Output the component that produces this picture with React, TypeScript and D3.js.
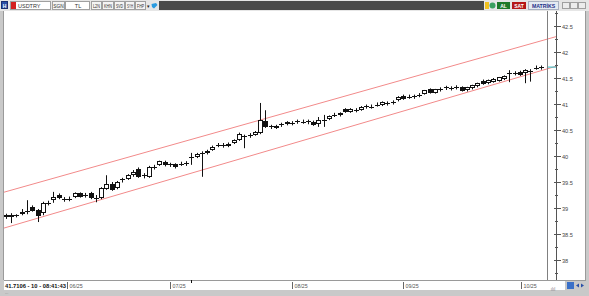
import React from "react";
import * as d3 from "d3";

// ---- data (USDTRY daily candles) ----
const opens = [38.86,38.82,38.85,38.88,38.92,39.02,38.96,38.90,39.09,39.15,39.25,39.17,39.18,39.21,39.28,39.24,39.29,39.19,39.19,39.37,39.46,39.38,39.53,39.56,39.63,39.75,39.62,39.60,39.78,39.83,39.88,39.83,39.84,39.84,39.85,39.98,39.98,40.05,40.06,40.12,40.20,40.21,40.19,40.25,40.31,40.37,40.39,40.41,40.44,40.67,40.56,40.54,40.60,40.61,40.63,40.66,40.66,40.66,40.66,40.62,40.69,40.71,40.78,40.78,40.90,40.85,40.88,40.89,40.95,40.95,40.98,40.98,41.01,41.02,41.07,41.16,41.13,41.14,41.17,41.20,41.28,41.22,41.28,41.31,41.30,41.32,41.32,41.26,41.30,41.34,41.45,41.40,41.43,41.45,41.48,41.58,41.59,41.62,41.59,41.63,41.69,41.70];
const highs = [38.89,38.90,38.88,38.98,39.15,39.05,38.98,39.12,39.14,39.31,39.28,39.21,39.22,39.30,39.30,39.29,39.31,39.25,39.40,39.63,39.50,39.52,39.58,39.65,39.73,39.78,39.67,39.81,39.83,39.91,39.91,39.87,39.86,39.89,39.90,40.06,40.06,40.09,40.12,40.20,40.25,40.25,40.26,40.32,40.45,40.41,40.44,40.48,41.02,40.88,40.60,40.60,40.64,40.67,40.67,40.70,40.70,40.70,40.68,40.75,40.79,40.78,40.83,40.84,40.92,40.92,40.92,40.96,40.99,40.99,41.03,41.05,41.05,41.07,41.15,41.18,41.18,41.18,41.21,41.27,41.30,41.29,41.32,41.35,41.34,41.36,41.34,41.33,41.37,41.41,41.47,41.47,41.50,41.52,41.55,41.65,41.63,41.64,41.67,41.67,41.74,41.74];
const lows = [38.79,38.71,38.82,38.86,38.88,38.93,38.73,38.86,39.05,39.10,39.17,39.12,39.13,39.19,39.20,39.20,39.17,39.11,39.17,39.35,39.33,39.36,39.49,39.54,39.60,39.58,39.57,39.58,39.74,39.81,39.80,39.79,39.76,39.81,39.81,39.83,39.96,39.60,40.03,40.10,40.17,40.16,40.17,40.23,40.29,40.15,40.35,40.39,40.42,40.54,40.52,40.52,40.56,40.59,40.59,40.62,40.62,40.61,40.58,40.56,40.56,40.69,40.75,40.76,40.83,40.83,40.84,40.87,40.91,40.91,40.95,40.96,40.97,40.99,41.05,41.08,41.10,41.10,41.13,41.18,41.20,41.20,41.24,41.27,41.26,41.28,41.24,41.24,41.28,41.32,41.37,41.38,41.41,41.43,41.46,41.42,41.55,41.54,41.40,41.43,41.66,41.66];
const closes = [38.82,38.87,38.86,38.92,38.94,38.95,38.85,39.09,39.10,39.21,39.19,39.18,39.17,39.28,39.22,39.25,39.19,39.20,39.38,39.46,39.35,39.50,39.55,39.63,39.70,39.60,39.63,39.78,39.79,39.90,39.82,39.84,39.78,39.85,39.86,39.99,40.04,40.06,40.09,40.18,40.21,40.22,40.23,40.31,40.42,40.38,40.40,40.47,40.69,40.56,40.57,40.58,40.61,40.65,40.64,40.67,40.66,40.67,40.60,40.70,40.70,40.77,40.79,40.83,40.84,40.91,40.89,40.95,40.96,40.95,40.99,41.04,41.02,41.03,41.14,41.10,41.14,41.15,41.18,41.26,41.22,41.28,41.29,41.32,41.31,41.33,41.25,41.33,41.36,41.40,41.39,41.46,41.49,41.51,41.54,41.59,41.60,41.56,41.66,41.64,41.70,41.71];

// month separators (position in candle-index units) and their labels
const monthLabels = ["06/25", "07/25", "08/25", "09/25", "10/25"];
const monthPos = [11.6, 31.0, 54.0, 75.0, 97.2];

// hand-drawn trend channel (candle index, price)
const upperChannel = [[-0.45, 39.30], [104.0, 42.30]];
const lowerChannel = [[-0.45, 38.61], [104.0, 41.73]];

const lastPriceText = "41.7106 - 10 - 08:41:43";
const toolbarButtons = ["L2N", "KHN", "SVD", "SYH", "FHP"];
const priceTicks = d3.range(37.75, 42.76, 0.25);

const FONT = "'Liberation Sans', Arial, sans-serif";

export default function App() {
  const W = 589, H = 296;
  const plotTop = 11, plotBottom = 280, plotLeft = 4, axisX = 556.5;
  const x = d3.scaleLinear().domain([0, 101]).range([5.7, 541]);
  const y = d3.scaleLinear().domain([38, 42.5]).range([260, 26]);
  const line = d3.line<number[]>().x(d => x(d[0])).y(d => y(d[1]));
  const lastClose = closes[closes.length - 1];

  const btn = (x0: number, w: number, label: string, key: string) => (
    <g key={key}>
      <rect x={x0 + 0.5} y={1.5} width={w} height={8} fill="#f4f4f4" stroke="#a0a0a0" strokeWidth={1} />
      <text x={x0 + 2} y={7.6} fontSize={4.8} textLength={w - 3} lengthAdjust="spacingAndGlyphs"
        fill="#333" fontFamily={FONT}>{label}</text>
    </g>
  );
  const btnX = [91, 102, 114, 125, 135];
  const btnW = [10, 11, 10, 9, 10];

  return (
    <svg width={W} height={H} style={{ position: "absolute", left: 0, top: 0, display: "block" }}>
      <defs>
        <clipPath id="plotclip">
          <rect x={plotLeft} y={plotTop} width={axisX - plotLeft} height={plotBottom - plotTop} />
        </clipPath>
      </defs>
      {/* window background */}
      <rect x={0} y={0} width={W} height={H} fill="#c9c9c9" />
      {/* toolbar */}
      <rect x={0} y={0} width={W} height={11} fill="#e6e6e6" />
      <rect x={1.5} y={1.5} width={6} height={7} fill="#2a4fa8" stroke="#1a2f70" />
      <text x={4.5} y={7.6} fontSize={5} textAnchor="middle" fill="#fff" fontFamily={FONT} fontWeight="bold">H</text>
      <rect x={10.5} y={1.5} width={40} height={8} fill="#ffffff" stroke="#a0a0a0" />
      <rect x={11} y={2} width={5} height={7} fill="#d42020" />
      <text x={18} y={7.8} fontSize={5.5} fill="#333" fontFamily={FONT}>USDTRY</text>
      <rect x={52.5} y={1.5} width={12} height={8} fill="#f4f4f4" stroke="#a0a0a0" />
      <text x={58.5} y={7.6} fontSize={4.8} textAnchor="middle" fill="#333" fontFamily={FONT}>SGN</text>
      <rect x={65.5} y={1.5} width={24} height={8} fill="#ffffff" stroke="#a0a0a0" />
      <text x={78} y={7.8} fontSize={5.5} textAnchor="middle" fill="#333" fontFamily={FONT}>TL</text>
      {toolbarButtons.map((b, k) => btn(btnX[k], btnW[k], b, b))}
      <text x={148} y={8} fontSize={5} textAnchor="middle" fill="#222" fontFamily={FONT}>▾</text>
      <path d="M151.5,4 L156,3 L157.5,5 L154,8.5 L152,7 Z" fill="#2a9be0" />
      <rect x={159} y={1} width={325} height={9} fill="#4a4a4a" />
      <rect x={485} y={2} width={4} height={7} fill="#f0c020" />
      <circle cx={492.5} cy={5.5} r={3} fill="#3aa060" />
      <rect x={497} y={2} width={13} height={7} fill="#1e7a2a" />
      <text x={503.5} y={7.6} fontSize={5} textAnchor="middle" fill="#fff" fontFamily={FONT} fontWeight="bold">AL</text>
      <rect x={512} y={2} width={14} height={7} fill="#b51818" />
      <text x={519} y={7.6} fontSize={5} textAnchor="middle" fill="#fff" fontFamily={FONT} fontWeight="bold">SAT</text>
      <rect x={528.5} y={1.5} width={30} height={8} fill="#e4eaf2" stroke="#a8b0c0" />
      <text x={543.5} y={7.7} fontSize={5.2} textAnchor="middle" fill="#1c2f88" fontFamily={FONT} fontWeight="bold">MATRİKS</text>
      {[562, 570, 578].map((bx, k) => (
        <rect key={k} x={bx + 0.5} y={2.5} width={7} height={6} fill="#ececec" stroke="#a0a0a0" />
      ))}

      {/* chart area */}
      <rect x={plotLeft} y={plotTop} width={586 - plotLeft} height={plotBottom - plotTop} fill="#ffffff" />
      <line x1={plotLeft} x2={586} y1={plotBottom + 0.5} y2={plotBottom + 0.5} stroke="#9a9a9a" />
      <line x1={585.5} x2={585.5} y1={plotTop} y2={plotBottom} stroke="#9a9a9a" />
      <line x1={plotLeft - 0.5} x2={plotLeft - 0.5} y1={plotTop} y2={plotBottom} stroke="#9a9a9a" />

      {/* channel */}
      <g clipPath="url(#plotclip)">
        <path d={line(upperChannel) || ""} stroke="#f28a8a" strokeWidth={1} fill="none" />
        <path d={line(lowerChannel) || ""} stroke="#f28a8a" strokeWidth={1} fill="none" />
      </g>

      {/* candles */}
      <g>
        {closes.map((c, i) => {
          const o = opens[i];
          const cx = Math.round(x(i)) + 0.5;
          const up = c >= o;
          const top = Math.round(y(Math.max(o, c)));
          const bot = Math.round(y(Math.min(o, c)));
          const h = Math.max(bot - top, 1);
          return (
            <g key={i}>
              <line x1={cx} x2={cx} y1={y(highs[i])} y2={y(lows[i])} stroke="#111" strokeWidth={1} />
              {h <= 1 ? (
                <line x1={cx - 2.5} x2={cx + 2.5} y1={top + 0.5} y2={top + 0.5} stroke="#111" strokeWidth={1} />
              ) : (
                <rect x={cx - 2} y={top + 0.5} width={4} height={h - 1 > 0 ? h - 1 : 1}
                  fill={up ? "#ffffff" : "#111"} stroke="#111" strokeWidth={1} />
              )}
            </g>
          );
        })}
      </g>

      {/* crosshair and price axis */}
      <line x1={547.5} x2={547.5} y1={plotTop} y2={plotBottom} stroke="#808080" />
      <line x1={548} x2={556} y1={y(lastClose)} y2={y(lastClose)} stroke="#2ac0c8" strokeWidth={1} />
      <line x1={axisX} x2={axisX} y1={plotTop} y2={plotBottom} stroke="#555" />
      {priceTicks.map((t, k) => {
        const major = Math.abs(t * 2 - Math.round(t * 2)) < 1e-6;
        const ty = Math.round(y(t)) + 0.5;
        return (
          <g key={k}>
            <line x1={major ? 554 : 555} x2={major ? 561 : 558} y1={ty} y2={ty} stroke="#555" />
            {major && (
              <text x={562} y={ty + 2} fontSize={5.6} fill="#444" fontFamily={FONT}>{d3.format("~g")(+t.toFixed(1))}</text>
            )}
          </g>
        );
      })}

      {/* date bar */}
      <rect x={plotLeft} y={281} width={561} height={9} fill="#ffffff" />
      {monthPos.map((p, k) => {
        const mx = Math.round(x(p)) + 0.5;
        return (
          <g key={k}>
            <line x1={mx} x2={mx} y1={282} y2={289} stroke="#666" />
            <text x={mx + 2} y={287.6} fontSize={5.3} fill="#555" fontFamily={FONT}>{monthLabels[k]}</text>
          </g>
        );
      })}
      <rect x={plotLeft} y={281} width={63} height={9} fill="#ffffff" />
      <text x={5} y={287.8} fontSize={5.8} fill="#111" fontFamily={FONT} fontWeight="bold">{lastPriceText}</text>
      <line x1={191.5} x2={191.5} y1={280} y2={283} stroke="#111" />
      <text x={553} y={291} fontSize={4.5} fill="#888" fontFamily={FONT} textAnchor="middle">ılıl</text>
      <rect x={567} y={282} width={7} height={7} fill="#3a70c8" />
      <path d="M576,285.5 L579,283.5 L579,287.5 Z" fill="#2a50a8" />
      <path d="M584,285.5 L581,283.5 L581,287.5 Z" fill="#2a50a8" />
      <text x={5} y={294} fontSize={4} fill="#777" fontFamily={FONT}>...</text>
    </svg>
  );
}
